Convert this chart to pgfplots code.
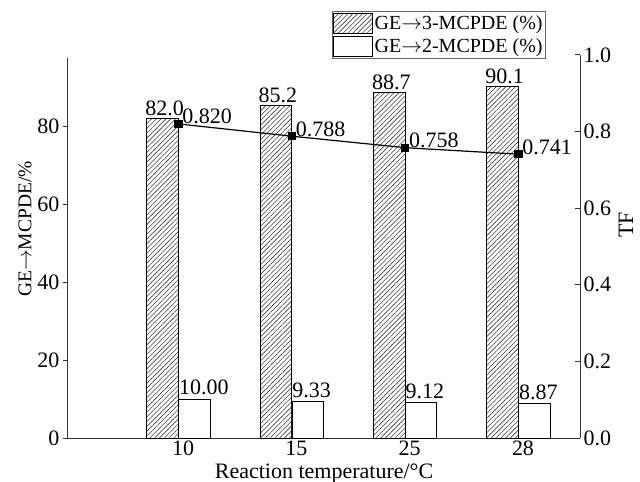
\documentclass[border=0pt]{standalone}
\usepackage{fontspec}
\setmainfont{Liberation Serif}
\usepackage{pgfplots}
\pgfplotsset{compat=1.18}
\usetikzlibrary{patterns.meta}
\newcommand\arr{$\rightarrow$}
\begin{document}
\begin{tikzpicture}[font=\fontsize{22}{26}\selectfont]
\path[use as bounding box] (-68pt,-44pt) rectangle (572pt,438pt);
\begin{axis}[
  at={(0pt,0pt)}, anchor=south west, scale only axis,
  width=512pt, height=380pt, clip=false,
  xmin=-1.015, xmax=3.503, ymin=0, ymax=97.44,
  axis lines*=left, axis line style={line width=1pt, black!80},
  xtick={0,1,2,3}, xticklabels={10,15,25,28},
  x tick style={draw=none},
  xticklabel style={inner sep=0pt, yshift=2pt},
  ytick={0,20,40,60,80}, tick align=outside, major tick length=5pt,
  y tick style={line width=1pt, black!80},
  /pgf/number format/assume math mode=true,
  ylabel={GE\arr MCPDE/\%},
  ylabel style={at={(axis description cs:-0.084,0.55)}, anchor=center, font=\fontsize{19.5}{22}\selectfont},
  xlabel={Reaction temperature/°C},
  xlabel style={at={(axis description cs:0.5,-0.1055)}, anchor=base, inner sep=0pt},
  legend style={at={(axis description cs:0.5156,1.1237)}, anchor=north west,
    draw=black!60, line width=0.8pt, font=\fontsize{20}{21}\selectfont,
    row sep=2pt, inner xsep=1pt, inner ysep=1.5pt,
    nodes={inner sep=1.5pt}},
  legend cell align=left,
  legend image code/.code={\draw[#1] (0pt,-10pt) rectangle (39pt,10pt);},
]
\addplot[ybar, bar width=31.5pt, bar shift=0pt, draw=black, line width=0.8pt,
  pattern={Lines[angle=45,distance=3.4pt,line width=0.6pt]}, pattern color=black!75,
  point meta=explicit symbolic, nodes near coords,
  every node near coord/.append style={anchor=south, yshift=-1pt, xshift=2pt, text=black}]
  coordinates {(-0.18,82.0)[82.0] (0.82,85.2)[85.2] (1.82,88.7)[88.7] (2.82,90.1)[90.1]};
\addlegendentry{GE\arr 3-MCPDE (\%)\hspace{13pt}}
\addplot[ybar, bar width=31.5pt, bar shift=0pt, draw=black, line width=0.8pt,
  fill=white,
  point meta=explicit symbolic, nodes near coords,
  every node near coord/.append style={anchor=south west, xshift=-19pt, yshift=0pt, text=black}]
  coordinates {(0.10,10.00)[10.00] (1.10,9.33)[9.33] (2.10,9.12)[9.12] (3.10,8.87)[8.87]};
\addlegendentry{GE\arr 2-MCPDE (\%)\hspace{13pt}}
\end{axis}
\begin{axis}[
  at={(0pt,0pt)}, anchor=south west, scale only axis,
  width=512pt, height=383pt, clip=false,
  xmin=-1.015, xmax=3.503, ymin=0, ymax=1,
  axis x line=none, axis y line*=right,
  axis line style={line width=1pt, black!80},
  ytick={0,0.2,0.4,0.6,0.8,1.0},
  yticklabel style={/pgf/number format/.cd, fixed, fixed zerofill, precision=1},
  /pgf/number format/assume math mode=true,
  tick align=inside, major tick length=5pt,
  y tick style={line width=1pt, black!80},
  ylabel={TF},
  ylabel style={at={(axis description cs:1.0898,0.556)}, anchor=center},
]
\addplot[black, line width=1.2pt, mark=square*, mark size=3.5pt,
  point meta=explicit symbolic, nodes near coords,
  every node near coord/.append style={anchor=base west, xshift=0pt, text=black}]
  coordinates {(-0.04,0.820)[0.820] (0.96,0.788)[0.788] (1.96,0.758)[0.758] (2.96,0.741)[0.741]};
\end{axis}
\end{tikzpicture}
\end{document}
